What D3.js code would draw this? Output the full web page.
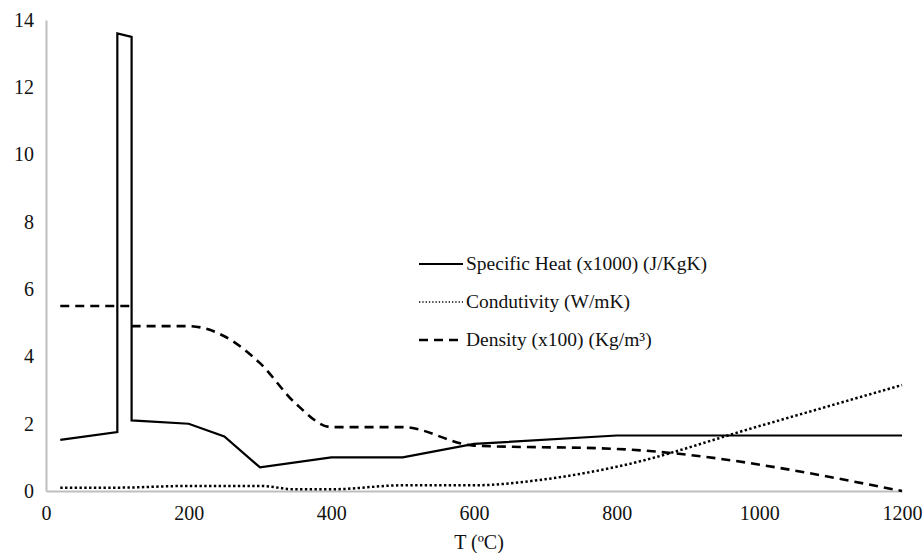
<!DOCTYPE html>
<html>
<head>
<meta charset="utf-8">
<script src="https://cdn.jsdelivr.net/npm/d3@7"></script>
<style>
    body { margin: 0; background: #fff; }
    svg { display: block; }
    svg text { font-family: "Liberation Serif", "Times New Roman", serif; fill: #111; }
</style>
</head>
<body>
<svg id="chart" width="922" height="553"></svg>
<script>
'use strict';

// temperatures (ºC) and values
const heatT = [20, 100, 100, 120, 120, 200, 250, 300, 400, 500, 600, 800, 1200];
const heatV = [1.52, 1.75, 13.6, 13.5, 2.1, 2.0, 1.62, 0.7, 1.0, 1.0, 1.4, 1.65, 1.65];

const condT = [20, 100, 200, 300, 350, 400, 500, 600, 700, 800, 1000, 1200];
const condV = [0.1, 0.1, 0.15, 0.15, 0.05, 0.05, 0.17, 0.17, 0.35, 0.72, 1.93, 3.15];

// density drops at 120 ºC; the step sits under the solid line, so two pieces
const densT = [20, 120, null, 120, 200, 250, 300, 350, 400, 500, 600, 800, 1200];
const densV = [5.5, 5.5, null, 4.9, 4.9, 4.6, 3.8, 2.6, 1.9, 1.9, 1.35, 1.25, 0];

const xTicks = [0, 200, 400, 600, 800, 1000, 1200];
const yTicks = [0, 2, 4, 6, 8, 10, 12, 14];

const series = [
    { name: 'Specific Heat (x1000) (J/KgK)', t: heatT, v: heatV, dash: null, width: 2.2, curve: d3.curveLinear },
    { name: 'Condutivity (W/mK)', t: condT, v: condV, dash: '2.4,2.4', width: 2.5, curve: d3.curveMonotoneX },
    { name: 'Density (x100) (Kg/m\u00b3)', t: densT, v: densV, dash: '9,6', width: 2.6, curve: d3.curveMonotoneX }
];

const svg = d3.select('#chart');

const x = d3.scaleLinear().domain([0, 1200]).range([46, 902]);
const y = d3.scaleLinear().domain([0, 14]).range([491, 20]);

// axes: plain grey lines, labels only
const xAxis = svg.append('g')
    .attr('transform', `translate(0, ${y(0)})`)
    .call(d3.axisBottom(x).tickValues(xTicks).tickSize(0).tickPadding(15).tickFormat(d3.format('d')));

const yAxis = svg.append('g')
    .attr('transform', `translate(${x(0)}, 0)`)
    .call(d3.axisLeft(y).tickValues(yTicks).tickSize(0).tickPadding(12).tickFormat(d3.format('d')));

[xAxis, yAxis].forEach(a => {
    a.attr('font-family', null).attr('font-size', null);
    a.select('.domain').attr('stroke', '#bfbfbf').attr('stroke-width', 2);
    a.selectAll('.tick text').style('font-size', '20px').attr('fill', '#111');
});

svg.append('text')
    .attr('x', 479)
    .attr('y', 549)
    .attr('text-anchor', 'middle')
    .style('font-size', '20px')
    .text('T (\u00baC)');

series.forEach(s => {
    const line = d3.line()
        .defined((d, i) => d !== null)
        .x((d, i) => x(s.t[i]))
        .y(d => y(d))
        .curve(s.curve);

    svg.append('path')
        .attr('d', line(s.v))
        .attr('fill', 'none')
        .attr('stroke', '#000')
        .attr('stroke-width', s.width)
        .attr('stroke-dasharray', s.dash)
        .attr('stroke-linejoin', 'miter');
});

// legend
const legend = svg.append('g');
series.forEach((s, i) => {
    const ly = 264 + i * 38;
    legend.append('line')
        .attr('x1', 419).attr('x2', 463)
        .attr('y1', ly).attr('y2', ly)
        .attr('stroke', '#000')
        .attr('stroke-width', i === 1 ? 1.5 : s.width)
        .attr('stroke-dasharray', i === 1 ? '1.3,2' : s.dash);
    legend.append('text')
        .attr('x', 466)
        .attr('y', ly + 6)
        .style('font-size', '19.5px')
        .text(s.name);
});
</script>
</body>
</html>
